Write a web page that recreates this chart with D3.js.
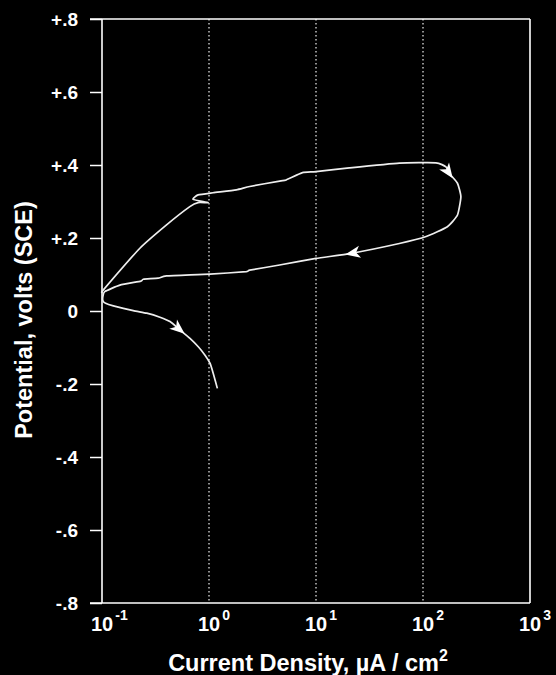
<!DOCTYPE html>
<html>
<head>
<meta charset="utf-8">
<script src="https://cdn.jsdelivr.net/npm/d3@7"></script>
<style>
  html, body { margin: 0; padding: 0; background: #000; }
  svg { display: block; background: #000; }
  text { font-family: "Liberation Sans", Arial, Helvetica, sans-serif; font-weight: bold; fill: #fff; }
</style>
</head>
<body>
<svg id="chart" width="556" height="675"></svg>
<script>
// ---- data ----
const current = [0.101, 0.103, 0.226, 0.401, 0.662, 0.791, 0.98, 0.71, 0.791, 1.09,
  1.80, 2.40, 4.57, 5.27, 7.48, 10.0, 20.5, 60.1, 132, 164,
  176, 210, 226, 210, 169, 107, 60.1, 21.3, 10.0, 4.57,
  2.40, 2.23, 1.02, 0.401, 0.335, 0.243, 0.231, 0.147, 0.106, 0.102,
  0.102, 0.108, 0.1276, 0.196, 0.262, 0.348, 0.432, 0.536, 0.664, 0.794,
  0.918, 1.021, 1.096, 1.197];
const potential = [0.052, 0.058, 0.172, 0.236, 0.286, 0.297, 0.297, 0.306, 0.318, 0.324,
  0.332, 0.341, 0.356, 0.359, 0.379, 0.382, 0.392, 0.405, 0.406, 0.395,
  0.377, 0.35, 0.313, 0.263, 0.231, 0.204, 0.185, 0.158, 0.144, 0.126,
  0.112, 0.108, 0.101, 0.096, 0.090, 0.087, 0.082, 0.071, 0.053, 0.040,
  0.028, 0.021, 0.014, 0.001, -0.006, -0.017, -0.029, -0.052, -0.075, -0.098,
  -0.121, -0.143, -0.171, -0.212];
const arrowIndex = [20, 27, 47];
const yTicks = [0.8, 0.6, 0.4, 0.2, 0, -0.2, -0.4, -0.6, -0.8];
const yTickLabels = ["+.8", "+.6", "+.4", "+.2", "0", "-.2", "-.4", "-.6", "-.8"];
const xTicks = [0.1, 1, 10, 100, 1000];
const xTickExponents = ["-1", "0", "1", "2", "3"];
const gridValues = [1, 10, 100];

// ---- layout ----
const svg = d3.select("#chart");
const pLeft = 102, pRight = 530, pTop = 19, pBottom = 603;
const x = d3.scaleLog().domain([0.1, 1000]).range([pLeft, pRight]);
const y = d3.scaleLinear().domain([-0.8, 0.8]).range([pBottom, pTop]);

// gridlines
svg.append("g").selectAll("line").data(gridValues).join("line")
  .attr("x1", d => x(d)).attr("x2", d => x(d))
  .attr("y1", pTop).attr("y2", pBottom)
  .attr("stroke", "#ddd").attr("stroke-width", 1.3)
  .attr("stroke-dasharray", "1.6,2.4");

// y axis with ticks
const yAxis = d3.axisLeft(y).tickValues(yTicks).tickSize(12)
  .tickFormat((d, i) => yTickLabels[i]).tickPadding(12);
const gy = svg.append("g").attr("transform", `translate(${pLeft},0)`).call(yAxis);
gy.select(".domain").remove();
gy.selectAll(".tick line").attr("stroke", "#fff").attr("stroke-width", 1.5);
gy.selectAll(".tick text").attr("font-size", 19).attr("fill", "#fff")
  .attr("font-family", "Liberation Sans, Arial, sans-serif").attr("font-weight", "bold");

// frame
const frame = svg.append("g").attr("stroke", "#fff").attr("stroke-width", 1.6).attr("fill", "none");
frame.append("line").attr("x1", pLeft).attr("x2", pLeft).attr("y1", pTop).attr("y2", pBottom);
frame.append("line").attr("x1", pRight).attr("x2", pRight).attr("y1", pTop).attr("y2", pBottom);
frame.append("line").attr("x1", pLeft - 12).attr("x2", pRight).attr("y1", pTop).attr("y2", pTop);
frame.append("line").attr("x1", pLeft - 12).attr("x2", pRight).attr("y1", pBottom).attr("y2", pBottom);

// x tick labels
const xl = svg.append("g").selectAll("text").data(xTicks).join("text")
  .attr("x", d => x(d) - 11).attr("y", 631)
  .attr("font-size", 20);
xl.append("tspan").text("10");
xl.append("tspan").attr("dx", 2).attr("dy", -11).attr("font-size", 14)
  .text((d, i) => xTickExponents[i]);

// axis titles
const xt = svg.append("text").attr("x", 308).attr("y", 671).attr("text-anchor", "middle")
  .attr("font-size", 23.5);
xt.append("tspan").text("Current Density, µA / cm");
xt.append("tspan").attr("dy", -10).attr("font-size", 16).text("2");

svg.append("text").attr("transform", "translate(32,320) rotate(-90)")
  .attr("text-anchor", "middle").attr("font-size", 23.5)
  .text("Potential, volts (SCE)");

// curve
const pts = current.map((c, i) => [x(c), y(potential[i])]);
svg.append("path").datum(pts)
  .attr("d", d3.line().curve(d3.curveCardinal.tension(0.5)))
  .attr("fill", "none").attr("stroke", "#eee").attr("stroke-width", 1.7)
  .attr("stroke-linejoin", "round");

// arrows
svg.append("g").selectAll("path").data(arrowIndex).join("path")
  .attr("d", "M2,0 L-13,-6 L-9,0 L-13,6 Z")
  .attr("fill", "#fff")
  .attr("transform", i => {
    const a = pts[i - 1], b = pts[i + 1];
    const ang = Math.atan2(b[1] - a[1], b[0] - a[0]);
    const tx = pts[i][0] + 4 * Math.cos(ang), ty = pts[i][1] + 4 * Math.sin(ang);
    return `translate(${tx},${ty}) rotate(${ang * 180 / Math.PI})`;
  });
</script>
</body>
</html>
